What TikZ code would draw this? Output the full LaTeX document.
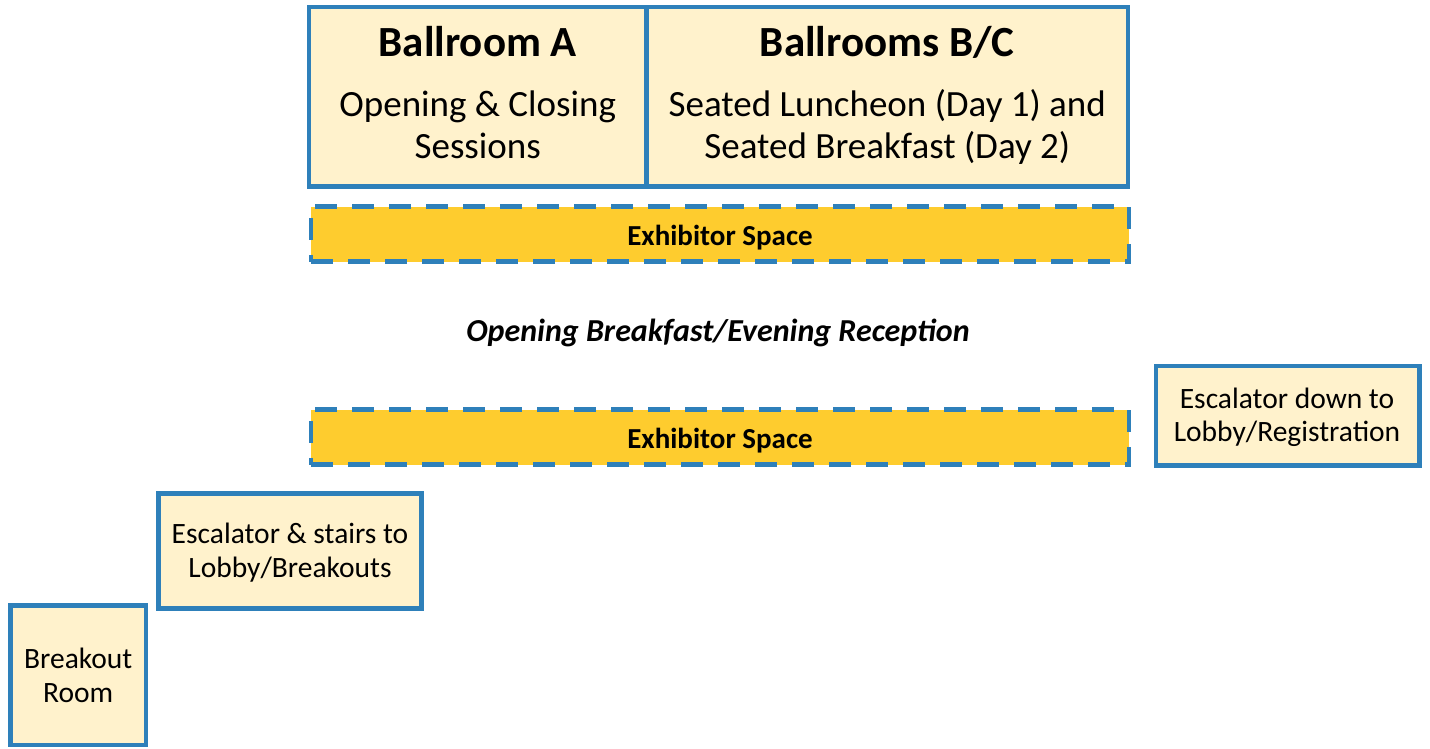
\documentclass[tikz,border=0pt]{standalone}
\usepackage{fontspec}
\setmainfont{Carlito}
\definecolor{roomfill}{HTML}{FFF2CC}
\definecolor{roomline}{HTML}{2E80BA}
\definecolor{exfill}{HTML}{FECC2E}
\begin{document}
\begin{tikzpicture}[x=1pt,y=-1pt,
  room/.style={draw=roomline, fill=roomfill, line width=4.5pt, rectangle, inner sep=0pt},
  exhibit/.style={draw=roomline, fill=exfill, line width=4.5pt, rectangle, inner sep=0pt,
    dash pattern=on 22pt off 15pt, minimum width=818pt, minimum height=55pt},
  extext/.style={anchor=base, inner sep=0pt, font=\fontsize{29}{34}\selectfont\bfseries},
  small/.style={anchor=base, inner sep=0pt, font=\fontsize{29.5}{34}\selectfont},
  big/.style={anchor=base, inner sep=0pt, font=\fontsize{37}{42}\selectfont},
  title/.style={anchor=base, inner sep=0pt, font=\fontsize{43}{48}\selectfont\bfseries}]
\useasboundingbox (0,0) rectangle (1430,749);
% ballrooms
\node[room, minimum width=337.5pt, minimum height=179.5pt] (ba) at (477.75,96.75) {};
\node[room, minimum width=481.5pt, minimum height=179.5pt] (bbc) at (887.25,96.75) {};
\node[title] (tba) at (477.75,57) {Ballroom A};
\node[big] (sa1) at (477.75,117) {Opening \& Closing};
\node[big] (sa2) at (477.75,158) {Sessions};
\node[title] (tbc) at (887.25,57) {Ballrooms B/C};
\node[big] (sb1) at (887.25,117) {Seated Luncheon (Day 1) and};
\node[big] (sb2) at (887.25,158) {Seated Breakfast (Day 2)};
% exhibitor spaces
\node[exhibit] (ex1) at (720,234) {};
\node[extext] (ex1t) at (720,245) {Exhibitor Space};
\node[exhibit] (ex2) at (720,437) {};
\node[extext] (ex2t) at (720,448) {Exhibitor Space};
% caption
\node[anchor=base, inner sep=0pt, font=\fontsize{32}{36}\selectfont\bfseries\itshape] (cap) at (718,341) {Opening Breakfast/Evening Reception};
% other rooms
\node[room, minimum width=263.5pt, minimum height=99.5pt] (esc) at (1287.75,415.75) {};
\node[small] (esc1) at (1287,408) {Escalator down to};
\node[small] (esc2) at (1287,441) {Lobby/Registration};
\node[room, minimum width=263pt, minimum height=115pt] (stairs) at (290,551) {};
\node[small] (st1) at (290,543) {Escalator \& stairs to};
\node[small] (st2) at (290,577) {Lobby/Breakouts};
\node[room, minimum width=135.5pt, minimum height=139.5pt] (brk) at (78.25,675.25) {};
\node[small] (br1) at (78.25,668) {Breakout};
\node[small] (br2) at (78.25,702) {Room};
\end{tikzpicture}
\end{document}
